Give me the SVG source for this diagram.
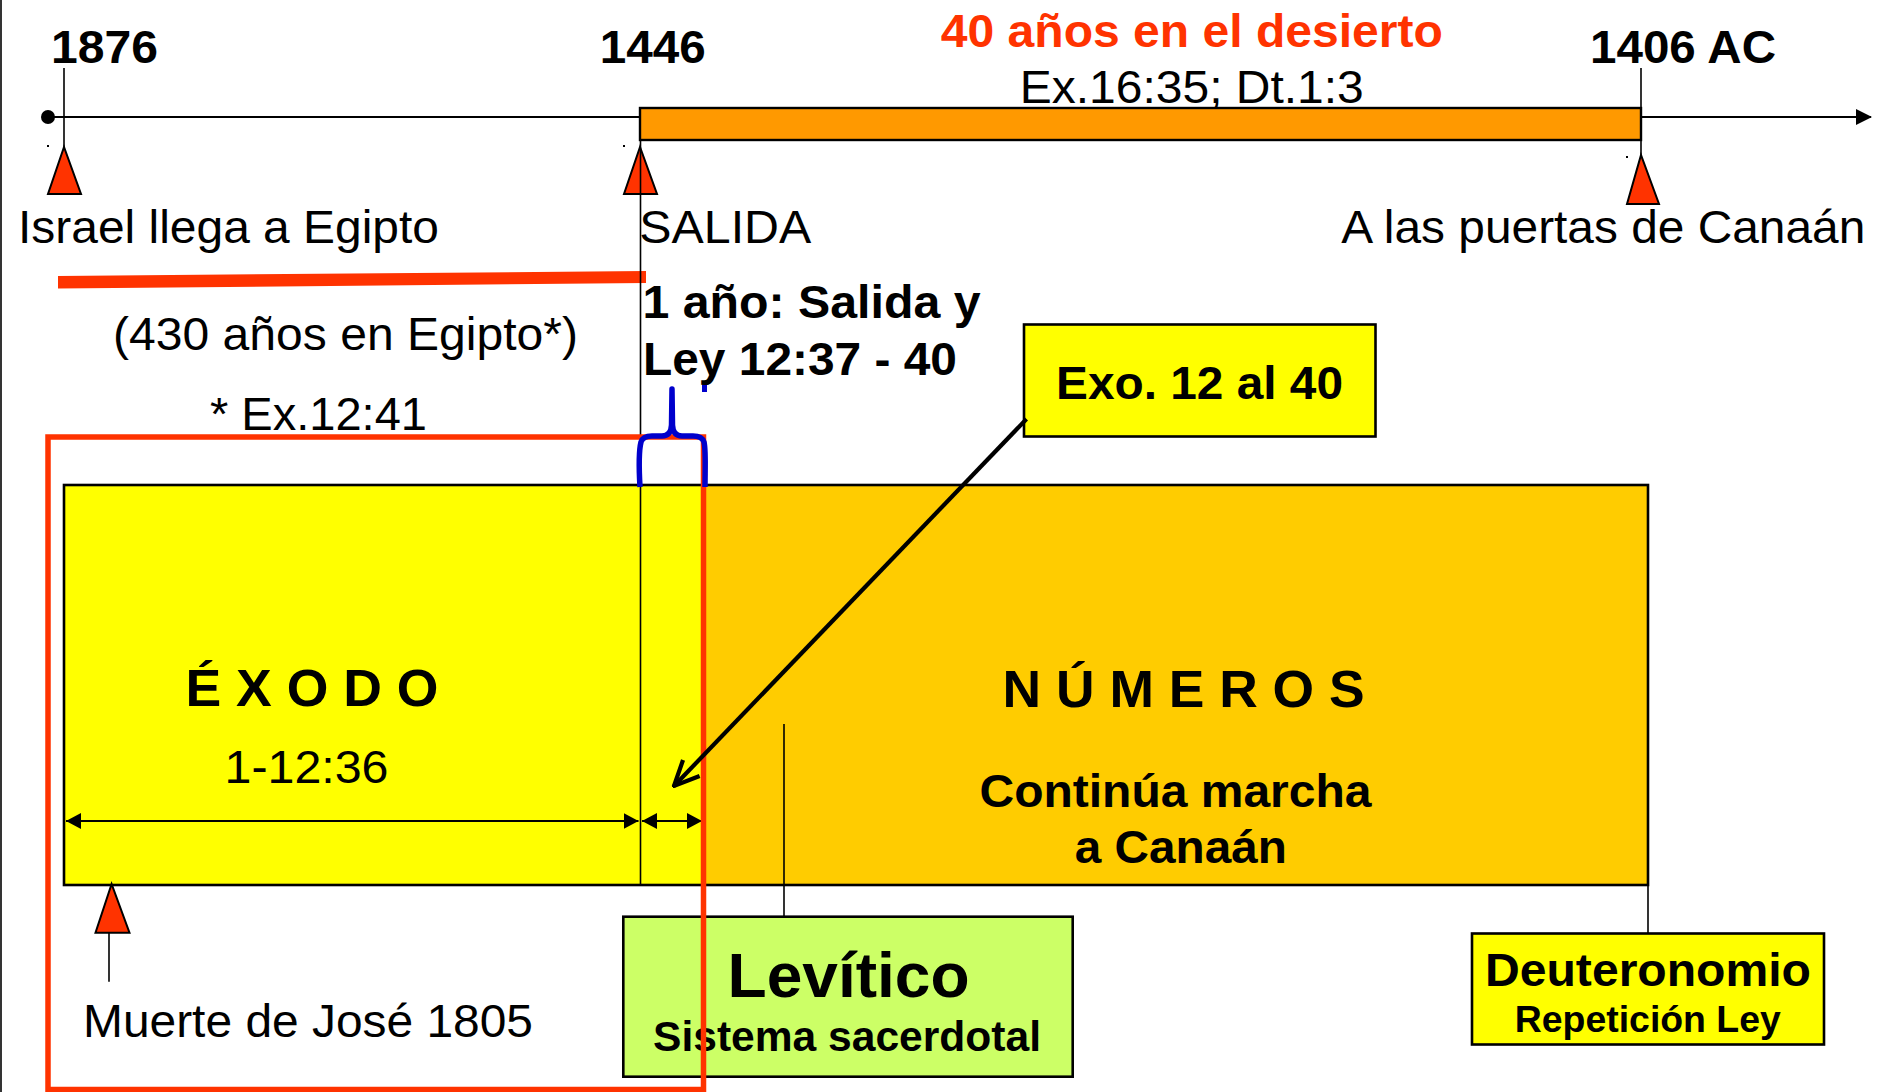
<svg xmlns="http://www.w3.org/2000/svg" width="1878" height="1092" viewBox="0 0 1878 1092">
<style>
text{font-family:"Liberation Sans",Arial,Helvetica,sans-serif;fill:#000;text-anchor:middle}
.b{font-weight:bold}
.r{font-size:47px}
.tri{fill:#FF3300;stroke:#000;stroke-width:2;stroke-linejoin:miter}
.thin{stroke:#000;stroke-width:1.6;fill:none}
.box{stroke:#000;stroke-width:2.6}
</style>
<defs>
<marker id="dim" viewBox="0 0 15 16" refX="15" refY="8" markerWidth="15" markerHeight="16" markerUnits="userSpaceOnUse" orient="auto-start-reverse">
<path d="M0,0 L15,8 L0,16 Z" fill="#000"/>
</marker>
<marker id="open" viewBox="-28 -14 30 28" refX="0" refY="0" markerWidth="30" markerHeight="28" markerUnits="userSpaceOnUse" orient="auto">
<path d="M-25,-11.5 L0,0 L-25,11.5" fill="none" stroke="#000" stroke-width="4.2"/>
</marker>
<marker id="tl" viewBox="0 0 16 16" refX="15" refY="8" markerWidth="16" markerHeight="16" markerUnits="userSpaceOnUse" orient="auto">
<path d="M0,0 L16,8 L0,16 Z" fill="#000"/>
</marker>
</defs>
<rect width="1878" height="1092" fill="#fff"/>
<line x1="1" y1="0" x2="1" y2="1092" stroke="#000" stroke-width="1.6"/>

<g id="timeline">
<line x1="48" y1="117" x2="1871" y2="117" stroke="#000" stroke-width="2" marker-end="url(#tl)"/>
<circle cx="48" cy="117" r="7"/>
<rect x="640" y="108" width="1001" height="32" fill="#FF9900" stroke="#000" stroke-width="2.4"/>
<line class="thin" x1="64" y1="68" x2="64" y2="147"/>
<line class="thin" x1="1641" y1="68" x2="1641" y2="155"/>
<polygon class="tri" points="64,147 48,194 81,194"/>
<polygon class="tri" points="640,147 624,194 657,194"/>
<polygon class="tri" points="1641,155 1627,204 1659,204"/>
<rect x="47" y="145" width="2" height="2"/>
<rect x="623" y="145" width="2" height="2"/>
<rect x="1626" y="156" width="2" height="2"/>
<text class="b r" x="104.4" y="63" textLength="107" lengthAdjust="spacingAndGlyphs">1876</text>
<text class="b r" x="652.7" y="63" textLength="106" lengthAdjust="spacingAndGlyphs">1446</text>
<text class="b r" x="1683" y="63" textLength="186" lengthAdjust="spacingAndGlyphs">1406 AC</text>
<text class="b r" x="1191.8" y="46.7" textLength="502" lengthAdjust="spacingAndGlyphs" style="fill:#FF3300">40 años en el desierto</text>
<text class="r" x="1191.8" y="103" textLength="344" lengthAdjust="spacingAndGlyphs">Ex.16:35; Dt.1:3</text>
<text class="r" x="228.5" y="243" textLength="421" lengthAdjust="spacingAndGlyphs">Israel llega a Egipto</text>
<text class="r" x="725.3" y="243" textLength="172" lengthAdjust="spacingAndGlyphs">SALIDA</text>
<text class="r" x="1603.3" y="243" textLength="524" lengthAdjust="spacingAndGlyphs">A las puertas de Canaán</text>
</g>

<g id="egipto">
<polygon points="58,276 646,271 646,283 58,288.5" fill="#FF3300"/>
<text class="r" x="345.5" y="350" textLength="465" lengthAdjust="spacingAndGlyphs">(430 años en Egipto*)</text>
<text class="r" x="318.5" y="430" textLength="217" lengthAdjust="spacingAndGlyphs">* Ex.12:41</text>
</g>

<g id="salida-ley">
<text class="b r" x="811.5" y="318" textLength="338" lengthAdjust="spacingAndGlyphs">1 año: Salida y</text>
<text class="b r" x="800" y="375" textLength="314" lengthAdjust="spacingAndGlyphs">Ley 12:37 - 40</text>
</g>

<g id="books">
<rect x="64" y="485" width="639.5" height="400" fill="#FFFF00"/>
<rect x="703.5" y="485" width="944.5" height="400" fill="#FFCC00"/>
<rect x="64" y="485" width="1584" height="400" fill="none" class="box"/>
</g>

<g id="exodo">
<text class="b" font-size="52" x="312" y="706" textLength="253" lengthAdjust="spacingAndGlyphs">É X O D O</text>
<text class="r" x="306.5" y="782.7" textLength="164" lengthAdjust="spacingAndGlyphs">1-12:36</text>
</g>

<g id="numeros">
<text class="b" font-size="52" x="1183.6" y="706.7" textLength="362" lengthAdjust="spacingAndGlyphs">N Ú M E R O S</text>
<text class="b r" x="1175.5" y="806.7" textLength="392" lengthAdjust="spacingAndGlyphs">Continúa marcha</text>
<text class="b r" x="1180.8" y="863.3" textLength="212" lengthAdjust="spacingAndGlyphs">a Canaán</text>
</g>

<g id="levitico">
<rect x="623.3" y="916.7" width="449.4" height="160" fill="#CCFF66" class="box"/>
<text class="b" font-size="63" x="848.6" y="997.3" textLength="242" lengthAdjust="spacingAndGlyphs">Levítico</text>
<text class="b" font-size="42" x="847" y="1051" textLength="388" lengthAdjust="spacingAndGlyphs">Sistema sacerdotal</text>
</g>

<g id="deuteronomio">
<rect x="1472" y="933.5" width="352" height="111" fill="#FFFF00" class="box"/>
<text class="b r" x="1648" y="985.6" textLength="326" lengthAdjust="spacingAndGlyphs">Deuteronomio</text>
<text class="b" font-size="37" x="1647.8" y="1032.3" textLength="266" lengthAdjust="spacingAndGlyphs">Repetición Ley</text>
</g>

<g id="exo-ref">
<rect x="1024" y="324.5" width="351.5" height="112" fill="#FFFF00" class="box"/>
<text class="b r" x="1199.5" y="399" textLength="287" lengthAdjust="spacingAndGlyphs">Exo. 12 al 40</text>
</g>

<g id="jose">
<polygon class="tri" points="111.6,884 95.5,932.7 129.5,932.7"/>
<text class="r" x="308" y="1037.3" textLength="450" lengthAdjust="spacingAndGlyphs">Muerte de José 1805</text>
</g>

<g id="connectors">
<line class="thin" x1="640.5" y1="140" x2="640.5" y2="884"/>
<line class="thin" x1="109" y1="932.7" x2="109" y2="981.7"/>
<line class="thin" x1="784" y1="724" x2="784" y2="917"/>
<line class="thin" x1="1648" y1="885" x2="1648" y2="933.5"/>
<line x1="66" y1="821" x2="638.5" y2="821" stroke="#000" stroke-width="2" marker-start="url(#dim)" marker-end="url(#dim)"/>
<line x1="642" y1="821" x2="702" y2="821" stroke="#000" stroke-width="2" marker-start="url(#dim)" marker-end="url(#dim)"/>
<rect x="48" y="437" width="655.5" height="652.5" fill="none" stroke="#FF3300" stroke-width="5.5"/>
<path d="M640,487 C639,470 639,450 641,442 Q643,436 652,436 L662,436 Q671,436 671.5,425 L672,389 L672.5,425 Q673,436 682,436 L693,436 Q702,436 704,442 C706,450 705,470 705,487" fill="none" stroke="#0000CC" stroke-width="5.5" stroke-linejoin="round"/>
<rect x="702" y="385" width="5" height="7" fill="#0000CC"/>
<line x1="1026.5" y1="419" x2="674" y2="786" stroke="#000" stroke-width="4.2" marker-end="url(#open)"/>
</g>
</svg>
